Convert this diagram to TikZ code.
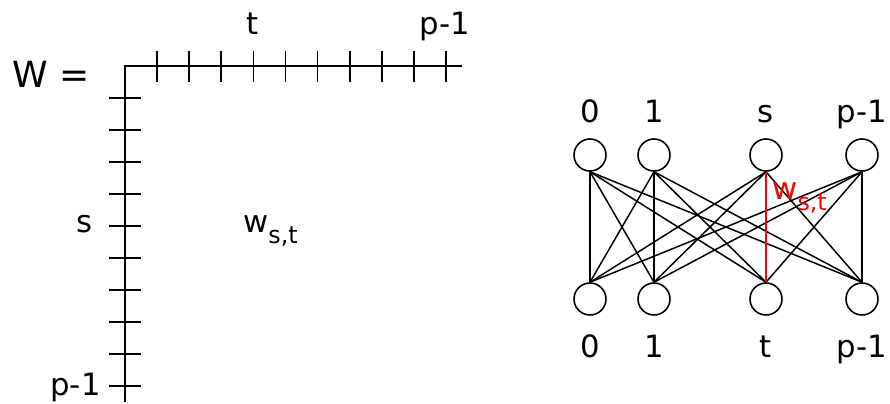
\documentclass[tikz,border=0pt]{standalone}
\usepackage{fontspec}
\setmainfont{DejaVu Sans}
\usepackage{xcolor}
\usepackage{tikz}
\usetikzlibrary{calc}
\tikzset{
    unit/.style={draw, circle, inner sep=0pt, minimum size=0.64cm, line width=0.9pt},
    lbl/.style={anchor=base, inner sep=0pt, font=\fontsize{17.5}{20}\selectfont},
    wire/.style={line width=0.85pt},
    hot/.style={draw=red, line width=1.7pt},
    mat/.style={line width=1pt}
}
\newcommand{\wst}{w\raisebox{-6.5pt}{\fontsize{13.5}{15}\selectfont s,t}}

\begin{document}
\begin{tikzpicture}[x=0.02cm, y=-0.02cm]
        \useasboundingbox (0,0) rectangle (890,403);

        % matrix axes
        \coordinate (o) at (125,66);
        \coordinate (xe) at (462,66);
        \coordinate (ye) at (125,402);
        \draw[mat] (xe) -- (o) -- (ye);
        \foreach \k in {1,...,10} {
            \draw[mat] ($(o)+(32.1*\k,-15.5)$) -- ++(0,31);
            \draw[mat] ($(o)+(-16,32*\k)$) -- ++(32,0);
        }
        \node[lbl, anchor=base west, font=\fontsize{20.5}{24}\selectfont] (weq) at (12,87) {W =};
        \node[lbl] (tcol) at (253,34) {t};
        \node[lbl] (pcol) at (445,34) {p-1};
        \node[lbl, anchor=base east] (srow) at (93,232) {s};
        \node[lbl, anchor=base east] (prow) at (101,395) {p-1};
        \node[lbl, anchor=base west] (wel) at (243,232) {\wst};

        % bipartite graph
        \node[unit] (a0) at (590,155) {};
        \node[unit] (a1) at (654,155) {};
        \node[unit] (as) at (766,155) {};
        \node[unit] (ap) at (862,155) {};
        \node[unit] (b0) at (590,299) {};
        \node[unit] (b1) at (654,299) {};
        \node[unit] (bt) at (766,299) {};
        \node[unit] (bp) at (862,299) {};

        \foreach \i in {a0,a1,as,ap} {
            \foreach \j in {b0,b1,bt,bp} {
                \draw[wire] (\i.south) -- (\j.north);
            }
        }
        \draw[hot] (as.south) -- (bt.north);
        \node[lbl, anchor=base west, text=red] (wred) at (772,199) {\wst};

        \node[lbl] (ta0) at (590,122) {0};
        \node[lbl] (ta1) at (654,122) {1};
        \node[lbl] (tas) at (766,122) {s};
        \node[lbl] (tap) at (862,122) {p-1};
        \node[lbl] (tb0) at (590,357) {0};
        \node[lbl] (tb1) at (654,357) {1};
        \node[lbl] (tbt) at (766,357) {t};
        \node[lbl] (tbp) at (862,357) {p-1};
    \end{tikzpicture}
\end{document}
